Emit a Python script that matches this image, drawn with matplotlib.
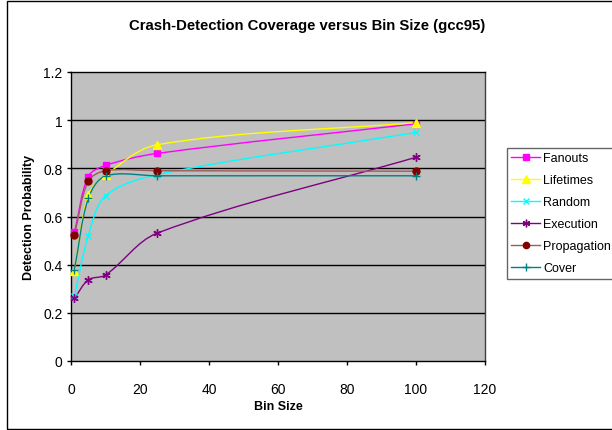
import math
import matplotlib
matplotlib.use("Agg")
import matplotlib.pyplot as plt
from matplotlib.path import Path
from matplotlib.patches import PathPatch, Rectangle
from matplotlib.lines import Line2D

plt.rcParams['font.family'] = ['Liberation Sans', 'DejaVu Sans']

bin_sizes = [1, 5, 10, 25, 100]

fanouts = [0.534, 0.766, 0.812, 0.862, 0.985]
lifetimes = [0.373, 0.688, 0.771, 0.898, 0.990]
random_sel = [0.269, 0.520, 0.685, 0.774, 0.949]
execution = [0.260, 0.337, 0.357, 0.531, 0.846]
propagation = [0.525, 0.746, 0.790, 0.790, 0.788]
cover = [0.379, 0.675, 0.768, 0.769, 0.769]

series_names = ["Fanouts", "Lifetimes", "Random", "Execution", "Propagation", "Cover"]
series_values = [fanouts, lifetimes, random_sel, execution, propagation, cover]
line_colors = ["#ff00ff", "#ffff00", "#00ffff", "#800080", "#a05a5a", "#008080"]
marker_colors = ["#ff00ff", "#ffff00", "#00ffff", "#800080", "#800000", "#008080"]
markers = ["s", "^", "x", (6, 2, 0), "o", "+"]
marker_sizes = [5, 6, 5, 6, 5, 6]

x_ticks = [0, 20, 40, 60, 80, 100, 120]
y_ticks = [0, 0.2, 0.4, 0.6, 0.8, 1, 1.2]
y_tick_labels = ["0", "0.2", "0.4", "0.6", "0.8", "1", "1.2"]


def smooth_path(ax, xs, ys):
    """Cubic Bezier path through the points; tangents are scaled by the
    on-screen lengths of the neighbouring segments so the curve never
    doubles back on unevenly spaced data."""
    pts = list(zip(xs, ys))
    scr = [tuple(p) for p in ax.transData.transform(pts)]
    n = len(pts)

    def dist(i, j):
        return math.hypot(scr[j][0] - scr[i][0], scr[j][1] - scr[i][1])

    verts = [pts[0]]
    codes = [Path.MOVETO]
    for i in range(n - 1):
        a = max(i - 1, 0)
        b = min(i + 2, n - 1)
        d_seg = dist(i, i + 1)
        # outgoing control at point i
        d_prev = dist(a, i)
        f1 = d_seg / (d_prev + d_seg) / 3.0 if i > 0 else 1.0 / 3.0
        c1 = (pts[i][0] + (pts[i + 1][0] - pts[a][0]) * f1,
              pts[i][1] + (pts[i + 1][1] - pts[a][1]) * f1)
        # incoming control at point i + 1
        d_next = dist(i + 1, b)
        f2 = d_seg / (d_seg + d_next) / 3.0 if i + 2 < n else 1.0 / 3.0
        c2 = (pts[i + 1][0] - (pts[b][0] - pts[i][0]) * f2,
              pts[i + 1][1] - (pts[b][1] - pts[i][1]) * f2)
        verts += [c1, c2, pts[i + 1]]
        codes += [Path.CURVE4, Path.CURVE4, Path.CURVE4]
    return Path(verts, codes)


fig = plt.figure(figsize=(6.12, 4.31), dpi=100)
fig.patch.set_facecolor("white")

# outer chart frame
fig.patches.append(Rectangle((7 / 612, 1 / 431), 1.0, 428 / 431,
                             transform=fig.transFigure, fill=False,
                             edgecolor="black", linewidth=1.0))

ax = fig.add_axes([71 / 612, 1 - 362 / 431, (485 - 71) / 612, (362 - 73) / 431])
ax.set_facecolor("#c0c0c0")
ax.set_xlim(0, 120)
ax.set_ylim(0, 1.2)

for y in y_ticks[1:-1]:
    ax.axhline(y, color="black", linewidth=1.0, zorder=1)

handles = []
for name, vals, lc, mc, mk, ms in zip(series_names, series_values, line_colors,
                                      marker_colors, markers, marker_sizes):
    patch = PathPatch(smooth_path(ax, bin_sizes, vals), facecolor="none",
                      edgecolor=lc, linewidth=1.0, zorder=3)
    ax.add_patch(patch)
    ax.plot(bin_sizes, vals, linestyle="none", marker=mk, markersize=ms,
            color=mc, markerfacecolor=mc, markeredgecolor=mc,
            markeredgewidth=1.0, zorder=4, clip_on=False)
    handles.append(Line2D([], [], color=lc, linewidth=1.0, marker=mk,
                          markersize=ms - 0.5, markerfacecolor=mc,
                          markeredgecolor=mc, markeredgewidth=1.0))

ax.set_xticks(x_ticks)
ax.set_xticklabels([str(v) for v in x_ticks])
ax.set_yticks(y_ticks)
ax.set_yticklabels(y_tick_labels)
ax.tick_params(axis="both", direction="out", length=3, width=1,
               labelsize=10, color="black")
ax.tick_params(axis="x", pad=12)
ax.tick_params(axis="y", pad=3)

for side in ("left", "bottom", "top"):
    ax.spines[side].set_color("black")
    ax.spines[side].set_linewidth(1.0)
ax.spines["right"].set_color("#404040")
ax.spines["right"].set_linewidth(1.0)

fig.text(278 / 612, 1 - 407 / 431, "Bin Size", ha="center", va="center",
         fontsize=9, fontweight="bold")
fig.text(29 / 612, 1 - 217 / 431, "Detection Probability", ha="center",
         va="center", rotation=90, fontsize=9, fontweight="bold")

fig.text(0.502, 1 - 26 / 431, "Crash-Detection Coverage versus Bin Size (gcc95)",
         ha="center", va="center", fontsize=10.7, fontweight="bold")

leg = fig.legend(handles, series_names, loc="upper left",
                 bbox_to_anchor=(507 / 612, 1 - 149 / 431),
                 bbox_transform=fig.transFigure, frameon=True, fancybox=False,
                 fontsize=9, handlelength=2.3, handletextpad=0.25,
                 labelspacing=0.8, borderpad=0.35, borderaxespad=0)
leg.get_frame().set_edgecolor("#404040")
leg.get_frame().set_linewidth(1.0)

fig.savefig("out.png", dpi=100)
